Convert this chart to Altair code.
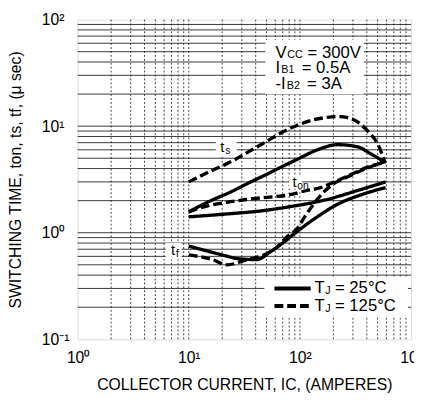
import altair as alt
import pandas as pd

FONT = "Liberation Sans"

# ---- curve data (collector current A, switching time usec) ----
ts125_x = [10, 15, 23.6, 35, 47.9, 70, 95, 130, 178, 230, 269, 320, 352, 420, 502, 581]
ts125_y = [3.0, 3.7, 4.6, 5.8, 7.0, 8.8, 10.2, 11.4, 12.1, 12.3, 12.0, 11.2, 10.4, 8.7, 6.8, 4.6]

ts25_x = [10, 15, 23.6, 35, 47.9, 70, 95, 144, 218, 330, 434, 581]
ts25_y = [1.57, 1.95, 2.4, 2.95, 3.45, 4.2, 4.9, 6.0, 6.7, 6.4, 5.5, 4.6]

ton125_x = [10, 14.6, 22, 33, 44, 60, 77, 117, 144, 205, 252, 320, 400, 590]
ton125_y = [1.57, 1.78, 1.93, 2.05, 2.12, 2.18, 2.25, 2.5, 2.6, 3.0, 3.3, 3.7, 4.1, 4.6]

ton25_x = [10, 22, 44, 77, 178, 330, 590]
ton25_y = [1.41, 1.50, 1.60, 1.74, 2.06, 2.49, 3.0]

tf125_x = [10, 16.3, 22.2, 33.6, 47.9, 62.8, 77, 95, 110, 135, 170, 208, 269, 330, 590]
tf125_y = [0.62, 0.56, 0.50, 0.56, 0.62, 0.74, 0.92, 1.1, 1.4, 1.9, 2.5, 2.95, 3.35, 3.7, 4.67]

tf25_x = [10, 20, 28, 41, 54, 70, 89, 135, 218, 370, 590]
tf25_y = [0.75, 0.62, 0.57, 0.56, 0.66, 0.8, 0.98, 1.35, 1.85, 2.3, 2.65]

series = [
    ("ts", "125", ts125_x, ts125_y),
    ("ts", "25", ts25_x, ts25_y),
    ("ton", "125", ton125_x, ton125_y),
    ("ton", "25", ton25_x, ton25_y),
    ("tf", "125", tf125_x, tf125_y),
    ("tf", "25", tf25_x, tf25_y),
]

# ---- axes ----
x_ticks = [1, 10, 100, 1000]
x_tick_labels = ["10⁰", "10¹", "10²", "10³"]
y_ticks = [0.1, 1, 10, 100]
y_tick_labels = ["10⁻¹", "10⁰", "10¹", "10²"]
minor_mult = [2, 3, 4, 5, 6, 7, 8, 9]
x_decades = [1, 10, 100]
y_decades = [0.1, 1, 10]
x_inner_decades = [10, 100]
y_inner_decades = [1, 10]

# ---- annotations ----
cond_lines = [("V", "CC", "= 300V"), ("I", "B1", "= 0.5A"), ("-I", "B2", "= 3A")]
cond_y = [49, 35, 25]
cond_x = 60.2
legend_labels = ["= 25°C", "= 125°C"]
legend_y = [0.30, 0.205]
curve_labels = [("s", 19.2, 6.4), ("on", 85.7, 3.0), ("f", 6.92, 0.69)]

rows = []
for name, temp, xs, ys in series:
    for x, y in zip(xs, ys):
        rows.append({"series": name + temp, "temp": temp, "ic": x, "t": y})
curves = pd.DataFrame(rows)

xs_ = alt.Scale(type="log", domain=[1, 1000], nice=False)
ys_ = alt.Scale(type="log", domain=[0.1, 100], nice=False)


def lab_expr(vals, labels):
    expr = "''"
    for v, l in zip(vals, labels):
        expr = f"abs(datum.value - {v}) < {v}*0.01 ? '{l}' : " + expr
    return expr


x_axis = alt.Axis(values=x_ticks, labelExpr=lab_expr(x_ticks, x_tick_labels), grid=False,
                  ticks=False, domain=False, labelFlush=False, labelFont=FONT, labelFontSize=16,
                  labelColor="black", labelPadding=11, title="COLLECTOR CURRENT, IC, (AMPERES)",
                  titleFont=FONT, titleFontSize=16, titleFontWeight="normal", titleColor="black",
                  titlePadding=11)
y_axis = alt.Axis(values=y_ticks, labelExpr=lab_expr(y_ticks, y_tick_labels), grid=False,
                  ticks=False, domain=False, labelAlign="left", labelFont=FONT, labelFontSize=16,
                  labelColor="black", labelPadding=37, title="SWITCHING TIME, ton, ts, tf, (μ sec)",
                  titleFont=FONT, titleFontSize=16, titleFontWeight="normal", titleColor="black",
                  titlePadding=18)

gx = pd.DataFrame({"gx": [m * d for d in x_decades for m in minor_mult] + x_inner_decades})
gy = pd.DataFrame({"gy": [m * d for d in y_decades for m in minor_mult] + y_inner_decades})

vgrid = alt.Chart(gx).mark_rule(color="#444", strokeWidth=1, strokeDash=[2, 2]).encode(
    x=alt.X("gx:Q", scale=xs_, axis=x_axis))
hgrid = alt.Chart(gy).mark_rule(color="#222", strokeWidth=0.9).encode(
    y=alt.Y("gy:Q", scale=ys_, axis=y_axis))

boxes = pd.DataFrame({
    "x1": [48.9, 47.9, 17.5, 80, 6.2],
    "x2": [375, 937, 27, 105, 8.6],
    "y1": [64.4, 0.384, 7.6, 3.4, 0.80],
    "y2": [19.9, 0.166, 5.4, 2.6, 0.56],
})
white = alt.Chart(boxes).mark_rect(color="white").encode(
    x=alt.X("x1:Q", scale=xs_), x2="x2:Q", y=alt.Y("y1:Q", scale=ys_), y2="y2:Q")

lines = alt.Chart(curves).mark_line(color="black", strokeWidth=3.4, interpolate="monotone").encode(
    x=alt.X("ic:Q", scale=xs_),
    y=alt.Y("t:Q", scale=ys_),
    detail="series:N",
    strokeDash=alt.StrokeDash("temp:N", scale=alt.Scale(domain=["25", "125"], range=[[1, 0], [9, 4]]),
                              legend=None),
)

# condition texts (main letter, subscript, rest)
cond_text = []
for (a, b, c), yv in zip(cond_lines, cond_y):
    wa = {"V": 12, "I": 6, "-I": 11.5}[a]
    wb = len(b) * 7.4 + 6
    d = pd.DataFrame({"x": [cond_x], "y": [yv], "a": [a], "b": [b], "c": [c]})
    bc = alt.Chart(d).encode(x=alt.X("x:Q", scale=xs_), y=alt.Y("y:Q", scale=ys_))
    cond_text.append(bc.mark_text(font=FONT, fontSize=17, align="left", baseline="middle", color="black").encode(text="a:N"))
    cond_text.append(bc.mark_text(font=FONT, fontSize=11, align="left", baseline="middle", color="black", dx=wa, dy=2).encode(text="b:N"))
    cond_text.append(bc.mark_text(font=FONT, fontSize=17, align="left", baseline="middle", color="black", dx=wa + wb).encode(text="c:N"))

# curve labels
curve_text = []
for sub, xv, yv in curve_labels:
    d = pd.DataFrame({"x": [xv], "y": [yv], "sub": [sub]})
    bc = alt.Chart(d).encode(x=alt.X("x:Q", scale=xs_), y=alt.Y("y:Q", scale=ys_))
    curve_text.append(bc.mark_text(font=FONT, fontSize=15, align="left", baseline="middle", color="black", text="t").encode())
    curve_text.append(bc.mark_text(font=FONT, fontSize=10.5, align="left", baseline="middle", color="black", dx=5, dy=4).encode(text="sub:N"))

# legend
leg = pd.DataFrame({"x1": [59, 59], "x2": [125, 125], "y": legend_y, "temp": ["25", "125"],
                    "lab": legend_labels, "tx": [135, 135]})
leg_lines = alt.Chart(leg).mark_rule(color="black", strokeWidth=4).encode(
    x=alt.X("x1:Q", scale=xs_), x2="x2:Q", y=alt.Y("y:Q", scale=ys_),
    strokeDash=alt.StrokeDash("temp:N", scale=alt.Scale(domain=["25", "125"], range=[[1, 0], [9, 3]]),
                              legend=None))
legb = alt.Chart(leg).encode(x=alt.X("tx:Q", scale=xs_), y=alt.Y("y:Q", scale=ys_))
leg_T = legb.mark_text(font=FONT, fontSize=17, align="left", baseline="middle", color="black", text="T").encode()
leg_J = legb.mark_text(font=FONT, fontSize=11, align="left", baseline="middle", color="black", text="J", dx=11, dy=3).encode()
leg_eq = legb.mark_text(font=FONT, fontSize=17, align="left", baseline="middle", color="black", dx=21).encode(
    text="lab:N")

chart = alt.layer(
    vgrid, hgrid, white, lines, *cond_text, *curve_text, leg_lines, leg_T, leg_J, leg_eq
).properties(
    width=414, height=388,
    padding={"left": 0, "top": 0, "right": -9, "bottom": 0},
    autosize=alt.AutoSizeParams(type="fit", contains="padding")
).configure_view(
    stroke="black", strokeWidth=2.5
).configure(background="white")

chart.save("out.html", embed_options={"renderer": "svg", "actions": False})
